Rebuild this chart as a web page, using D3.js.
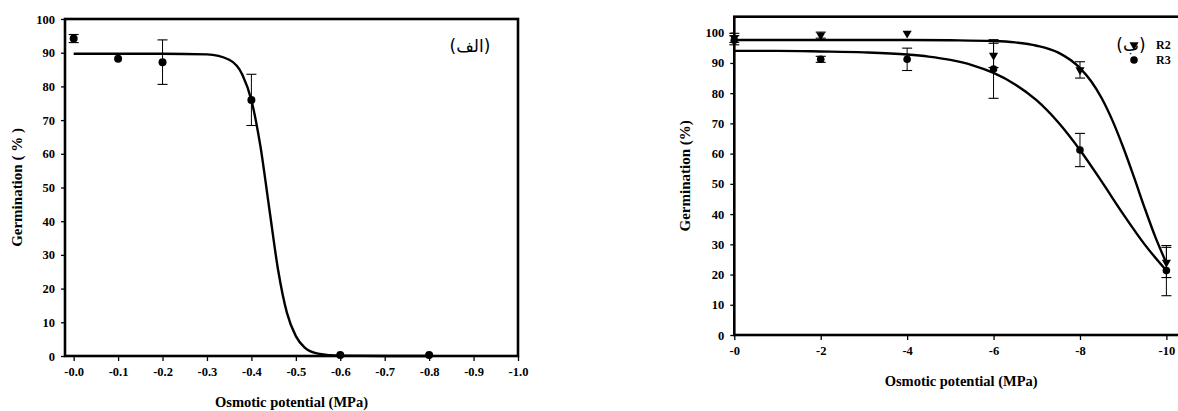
<!DOCTYPE html>
<html>
<head>
<meta charset="utf-8">
<script src="https://cdn.jsdelivr.net/npm/d3@7"></script>
<style>
  html, body { margin: 0; padding: 0; background: #fff; }
  svg { display: block; }
  text { font-family: "Liberation Serif", "Times New Roman", serif; font-weight: bold; fill: #000; }
</style>
</head>
<body>
<svg id="chart" width="1178" height="411"></svg>
<script>
// ---------- Panel (الف) ----------
const leftX = [0, -0.1, -0.2, -0.4, -0.6, -0.8];
const leftY = [94.2, 88.2, 87.2, 76.0, 0.3, 0.3];
const leftErr = [1.2, 0, 6.6, 7.6, 0, 0];
const leftFitX = [0, -0.1, -0.2, -0.3, -0.35, -0.38, -0.40, -0.42, -0.44, -0.46, -0.48, -0.50, -0.52, -0.55, -0.60, -0.70, -0.80];
const leftFitY = [89.7, 89.7, 89.7, 89.5, 87.9, 83.4, 75.9, 62.5, 44.0, 25.6, 12.8, 5.9, 2.5, 0.7, 0.1, 0, 0];
const leftXTicks = [0, -0.1, -0.2, -0.3, -0.4, -0.5, -0.6, -0.7, -0.8, -0.9, -1.0];
const leftXTickLabels = ["-0.0", "-0.1", "-0.2", "-0.3", "-0.4", "-0.5", "-0.6", "-0.7", "-0.8", "-0.9", "-1.0"];
const leftYTicks = [0, 10, 20, 30, 40, 50, 60, 70, 80, 90, 100];
const leftTag = "(الف)";

// ---------- Panel (ب) ----------
const rightX = [0, -2, -4, -6, -8, -10];
const r2Y = [98.3, 99.2, 99.8, 92.5, 87.7, 24.0];
const r2Err = [1.5, 1.0, 0, 4.0, 2.7, 5.0];
const r3Y = [97.5, 91.2, 91.2, 88.0, 61.2, 21.3];
const r3Err = [1.5, 1.0, 3.7, 9.7, 5.5, 8.3];
const r2FitX = [0, -2, -4, -5, -6, -6.5, -7, -7.5, -8, -8.25, -8.5, -8.75, -9, -9.25, -9.5, -9.75, -10];
const r2FitY = [97.6, 97.6, 97.6, 97.5, 97.25, 96.8, 95.7, 93.4, 88.3, 84.1, 78.4, 71.0, 62.1, 52.2, 41.9, 32.2, 23.8];
const r3FitX = [0, -1, -2, -3, -4, -4.5, -5, -5.5, -6, -6.5, -7, -7.5, -8, -8.5, -9, -9.5, -10];
const r3FitY = [94.0, 94.0, 93.8, 93.5, 92.8, 92.1, 91.0, 89.3, 86.7, 82.9, 77.6, 70.3, 61.2, 50.8, 40.0, 29.9, 21.3];
const rightXTicks = [0, -2, -4, -6, -8, -10];
const rightXTickLabels = ["-0", "-2", "-4", "-6", "-8", "-10"];
const rightYTicks = [0, 10, 20, 30, 40, 50, 60, 70, 80, 90, 100];
const rightTag = "(ب)";
const seriesNames = ["R2", "R3"];

const yTitle = "Germination ( % )";
const yTitle2 = "Germination (%)";
const xTitle = "Osmotic potential (MPa)";

const svg = d3.select("#chart");

function drawPanel(cfg) {
  const g = svg.append("g");
  const x = d3.scaleLinear().domain(cfg.xDomain).range([cfg.left, cfg.right]);
  const y = d3.scaleLinear().domain(cfg.yDomain).range([cfg.bottom, cfg.top]);

  const xAxis = d3.axisBottom(x).tickValues(cfg.xTicks)
    .tickFormat((d, i) => cfg.xTickLabels[i]).tickSize(5).tickPadding(6).tickSizeOuter(0);
  const gx = g.append("g").attr("transform", `translate(0,${cfg.bottom})`).call(xAxis);
  gx.select(".domain").remove();
  gx.selectAll(".tick line").attr("stroke", "#000").attr("stroke-width", 1.3);
  gx.selectAll(".tick text").style("font-size", "12.5px").style("font-family", "Liberation Serif, serif").style("font-weight", "bold");

  const yAxis = d3.axisLeft(y).tickValues(cfg.yTicks).tickSize(4).tickPadding(6).tickSizeOuter(0);
  const gy = g.append("g").attr("transform", `translate(${cfg.left},0)`).call(yAxis);
  gy.select(".domain").remove();
  gy.selectAll(".tick line").attr("stroke", "#000").attr("stroke-width", 1.3);
  gy.selectAll(".tick text").style("font-size", "12.5px").style("font-family", "Liberation Serif, serif").style("font-weight", "bold");

  g.append("rect")
    .attr("x", cfg.left).attr("y", cfg.top)
    .attr("width", cfg.right - cfg.left).attr("height", cfg.bottom - cfg.top)
    .attr("fill", "none").attr("stroke", "#000").attr("stroke-width", 2.6);

  g.append("text")
    .attr("x", (cfg.left + cfg.right) / 2).attr("y", cfg.xTitleY)
    .attr("text-anchor", "middle").style("font-size", "14.5px").text(xTitle);
  g.append("text")
    .attr("transform", `translate(${cfg.yTitleX},${(cfg.top + cfg.bottom) / 2}) rotate(-90)`)
    .attr("text-anchor", "middle").attr("dy", "0.35em").style("font-size", "15px").text(cfg.yTitle);

  return { g, x, y };
}

function drawFit(p, xs, ys) {
  const pts = xs.map((d, i) => [d, ys[i]]);
  const line = d3.line().x(d => p.x(d[0])).y(d => p.y(d[1])).curve(d3.curveMonotoneX);
  p.g.append("path").datum(pts).attr("d", line)
    .attr("fill", "none").attr("stroke", "#000").attr("stroke-width", 2.4).attr("stroke-linejoin", "round");
}

function drawErr(p, xs, ys, es, capW) {
  xs.forEach((xv, i) => {
    const e = es[i];
    if (!e) return;
    const cx = p.x(xv), y1 = p.y(ys[i] + e), y2 = p.y(ys[i] - e);
    p.g.append("line").attr("x1", cx).attr("x2", cx).attr("y1", y1).attr("y2", y2).attr("stroke", "#000").attr("stroke-width", 1);
    [y1, y2].forEach(yy => p.g.append("line").attr("x1", cx - capW).attr("x2", cx + capW).attr("y1", yy).attr("y2", yy).attr("stroke", "#000").attr("stroke-width", 1.1));
  });
}

function drawCircles(p, xs, ys, r) {
  p.g.selectAll(null).data(xs.map((d, i) => [d, ys[i]])).enter().append("circle")
    .attr("cx", d => p.x(d[0])).attr("cy", d => p.y(d[1])).attr("r", r).attr("fill", "#000");
}

const triSym = d3.symbol().type(d3.symbolTriangle).size(36);
function drawTriangles(p, xs, ys) {
  p.g.selectAll(null).data(xs.map((d, i) => [d, ys[i]])).enter().append("path")
    .attr("d", triSym)
    .attr("transform", d => `translate(${p.x(d[0])},${p.y(d[1])}) rotate(180)`)
    .attr("fill", "#000");
}

// ----- left panel -----
const L = drawPanel({
  left: 65, right: 518, top: 19, bottom: 356,
  xDomain: [0.0195, -1.0], yDomain: [0, 100],
  xTicks: leftXTicks, xTickLabels: leftXTickLabels, yTicks: leftYTicks,
  xTitleY: 406.5, yTitleX: 17, yTitle: yTitle
});
drawFit(L, leftFitX, leftFitY);
drawErr(L, leftX, leftY, leftErr, 5);
drawCircles(L, leftX, leftY, 4);
L.g.append("text").attr("x", 470).attr("y", 52).attr("text-anchor", "middle")
  .style("font-size", "17px").style("font-weight", "normal").style("font-family", "DejaVu Sans, serif").text(leftTag);

// ----- right panel -----
const R = drawPanel({
  left: 734.3, right: 1188, top: 16.7, bottom: 335,
  xDomain: [0, -10.5], yDomain: [0, 105.3],
  xTicks: rightXTicks, xTickLabels: rightXTickLabels, yTicks: rightYTicks,
  xTitleY: 386, yTitleX: 685, yTitle: yTitle2
});
drawFit(R, r2FitX, r2FitY);
drawFit(R, r3FitX, r3FitY);
drawErr(R, rightX, r2Y, r2Err, 5);
drawErr(R, rightX, r3Y, r3Err, 5);
drawTriangles(R, rightX, r2Y);
drawCircles(R, rightX, r3Y, 3.8);

R.g.append("text").attr("x", 1131).attr("y", 51).attr("text-anchor", "middle")
  .style("font-size", "17px").style("font-weight", "normal").style("font-family", "DejaVu Sans, serif").text(rightTag);
R.g.append("path").attr("d", triSym).attr("transform", "translate(1134,45) rotate(180)").attr("fill", "#000");
R.g.append("circle").attr("cx", 1134).attr("cy", 60).attr("r", 3.8).attr("fill", "#000");
R.g.append("text").attr("x", 1156).attr("y", 49).style("font-size", "12px").text(seriesNames[0]);
R.g.append("text").attr("x", 1156).attr("y", 64).style("font-size", "12px").text(seriesNames[1]);
</script>
</body>
</html>
